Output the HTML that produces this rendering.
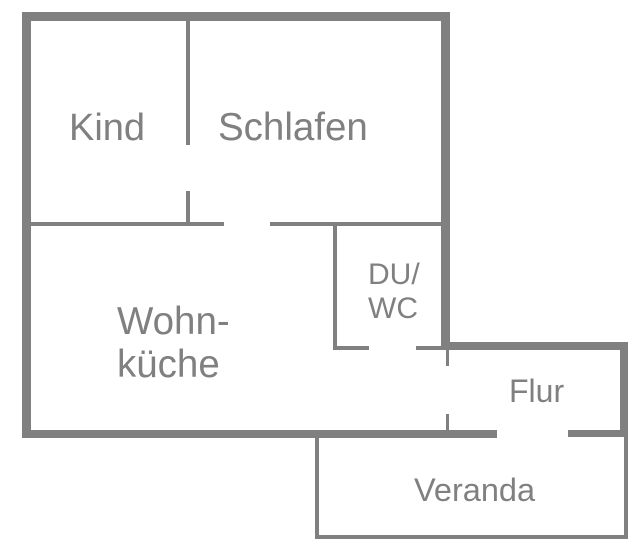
<!DOCTYPE html>
<html><head><style>html,body{margin:0;padding:0;background:#fff}svg{display:block}</style></head>
<body>
<svg width="644" height="552" viewBox="0 0 644 552" xmlns="http://www.w3.org/2000/svg">
<g fill="#808080">
<rect x="22" y="12" width="428" height="9"/>
<rect x="22" y="12" width="9" height="426"/>
<rect x="441" y="12" width="9" height="338"/>
<rect x="22" y="430" width="475" height="8"/>
<rect x="441" y="342" width="187" height="8"/>
<rect x="620" y="342" width="8" height="95"/>
<rect x="568" y="430" width="60" height="7"/>
<rect x="446" y="350" width="3" height="16"/>
<rect x="446" y="414" width="3" height="17"/>
<rect x="186" y="21" width="4" height="124"/>
<rect x="186" y="191" width="4" height="33"/>
<rect x="31" y="222" width="193" height="4"/>
<rect x="270" y="222" width="171" height="4"/>
<rect x="333" y="222" width="4" height="127"/>
<rect x="333" y="346" width="36" height="4"/>
<rect x="416" y="346" width="25" height="4"/>
<rect x="315" y="437" width="4" height="101"/>
<rect x="315" y="535" width="313" height="4"/>
<rect x="624" y="437" width="4" height="102"/>
</g>
<g fill="#808080" font-family="Liberation Sans, Arial, sans-serif">
<text x="69" y="140" font-size="38">Kind</text>
<text x="218" y="140" font-size="38.5">Schlafen</text>
<text x="117" y="334" font-size="38.5">Wohn-</text>
<text x="117" y="377" font-size="38.5">küche</text>
<text x="368" y="284" font-size="30">DU/</text>
<text x="368" y="318" font-size="30">WC</text>
<text x="509" y="402" font-size="32">Flur</text>
<text x="414" y="501" font-size="32.5">Veranda</text>
</g>
</svg>
</body></html>
